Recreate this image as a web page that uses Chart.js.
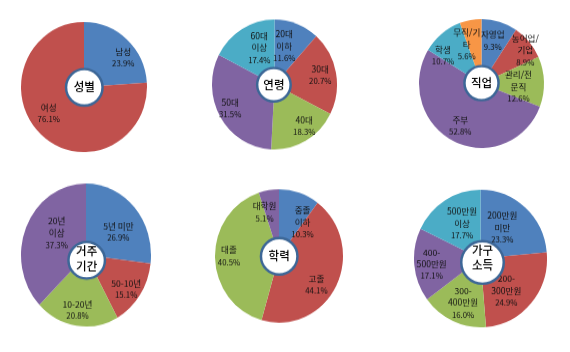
<!DOCTYPE html>
<html><head><meta charset="utf-8">
<script src="https://cdn.jsdelivr.net/npm/chart.js@4"></script>
<style>
html,body{margin:0;padding:0;background:#fff}
body{width:570px;height:352px;overflow:hidden;position:relative}
.w{position:absolute}
canvas{display:block}
</style></head><body>
<div class="w" id="w1"><canvas id="k1"></canvas></div>
<div class="w" id="w2"><canvas id="k2"></canvas></div>
<div class="w" id="w3"><canvas id="k3"></canvas></div>
<div class="w" id="w4"><canvas id="k4"></canvas></div>
<div class="w" id="w5"><canvas id="k5"></canvas></div>
<div class="w" id="w6"><canvas id="k6"></canvas></div>
<script>
// ---- data ----
const genderTitle = ["성별"];
const genderLabels = [["남성"], ["여성"]];
const genderValues = [23.9, 76.1];

const ageTitle = ["연령"];
const ageLabels = [["20대", "이하"], ["30대"], ["40대"], ["50대"], ["60대", "이상"]];
const ageValues = [11.6, 20.7, 18.3, 31.5, 17.4];

const jobTitle = ["직업"];
const jobLabels = [["자영업"], ["농어업/", "기업"], ["관리/전", "문직"], ["주부"], ["학생"], ["무직/기", "타"]];
const jobValues = [9.3, 8.9, 12.6, 52.8, 10.7, 5.6];

const stayTitle = ["거주", "기간"];
const stayLabels = [["5년 미만"], ["50-10년"], ["10-20년"], ["20년", "이상"]];
const stayValues = [26.9, 15.1, 20.8, 37.3];

const eduTitle = ["학력"];
const eduLabels = [["중졸", "이하"], ["고졸"], ["대졸"], ["대학원"]];
const eduValues = [10.3, 44.1, 40.5, 5.1];

const incomeTitle = ["가구", "소득"];
const incomeLabels = [["200만원", "미만"], ["200-", "300만원"], ["300-", "400만원"], ["400-", "500만원"], ["500만원", "이상"]];
const incomeValues = [23.3, 24.9, 16.0, 17.1, 17.7];

const palette = ["#4f81bd", "#c0504d", "#9bbb59", "#8064a2", "#4bacc6", "#f79646"];

// ---- layout (pie centre, radii, hole, label nudges) ----
const layouts = [
  {cx: 83.5, cy: 86.5, rx: 63, ry: 65, hole: 19.5, hx: 0.3, hy: 0.3, ty: -0.5,
   nudge: [[10, 3], [-6, -6]]},
  {cx: 274.3, cy: 84, rx: 62.5, ry: 65, hole: 18, hx: -0.6, hy: 0.2, ty: 0,
   nudge: [[-5.5, 3], [4, -1], [8.5, 3], [-7.5, 1.5], [7, 1]]},
  {cx: 481.7, cy: 83.7, rx: 62.5, ry: 64.5, hole: 18.3, hx: 0, hy: -0.4, ty: 0,
   nudge: [[-1, -1], [11.5, -5], [-5.5, 4.5], [-2.5, 3], [-11.5, 6], [-7.3, 4]]},
  {cx: 86, cy: 255, rx: 65, ry: 71.5, hole: 19.5, hx: 0.7, hy: 5.3, ty: -2,
   nudge: [[-0.7, 9.3], [3.5, 7], [-2, 7], [11.4, -3]]},
  {cx: 279, cy: 256, rx: 64, ry: 66.7, hole: 19.5, hx: 0.2, hy: 0.3, ty: 0,
   nudge: [[9.7, 9.5], [-1.5, 8.3], [-6.5, -1], [-7.5, 1]]},
  {cx: 480, cy: 258, rx: 66.7, ry: 69, hole: 22.5, hx: 2, hy: 4, ty: -4.5,
   nudge: [[-8.6, 3.4], [-8.8, 2], [1.2, 1.4], [-3.8, 1.2], [5.7, 4.7]]}
];

const charts = [
  {title: genderTitle, labels: genderLabels, values: genderValues},
  {title: ageTitle, labels: ageLabels, values: ageValues},
  {title: jobTitle, labels: jobLabels, values: jobValues},
  {title: stayTitle, labels: stayLabels, values: stayValues},
  {title: eduTitle, labels: eduLabels, values: eduValues},
  {title: incomeTitle, labels: incomeLabels, values: incomeValues}
];

const FONT = '"Noto Sans CJK KR", "Noto Sans", sans-serif';

const labelPlugin = {
  id: 'pieLabels',
  afterDatasetsDraw(chart, args, opts) {
    const ctx = chart.ctx;
    const meta = chart.getDatasetMeta(0);
    const ds = chart.data.datasets[0];
    const sy = opts.sy || 1; // vertical stretch applied by css
    ctx.save();
    meta.data.forEach((arc, i) => {
      const p = arc.getProps(['x', 'y', 'startAngle', 'endAngle', 'outerRadius'], true);
      const mid = (p.startAngle + p.endAngle) / 2;
      const r = p.outerRadius * opts.labelR;
      const n = opts.nudge[i] || [0, 0];
      const lx = p.x + Math.cos(mid) * r + n[0];
      const ly = p.y + Math.sin(mid) * r + n[1] / sy;
      const lines = chart.data.labels[i].slice();
      lines.push(ds.data[i].toFixed(1) + '%');
      ctx.save();
      ctx.translate(lx, ly);
      ctx.scale(1, 1 / sy);
      ctx.fillStyle = '#111';
      ctx.textAlign = 'center';
      ctx.textBaseline = 'middle';
      const lh = 12;
      const top = -(lines.length - 1) * lh / 2;
      lines.forEach((t, j) => {
        ctx.font = (j === lines.length - 1 ? '7.8px ' : '8.6px ') + FONT;
        ctx.fillText(t, 0, top + j * lh);
      });
      ctx.restore();
    });
    // hole
    const p0 = meta.data[0].getProps(['x', 'y'], true);
    ctx.translate(p0.x + opts.hx, p0.y + opts.hy / sy);
    ctx.scale(1, 1 / sy);
    ctx.beginPath();
    ctx.arc(0, 0, opts.hole - 1.25, 0, Math.PI * 2);
    ctx.fillStyle = '#ffffff';
    ctx.fill();
    ctx.lineWidth = 2.5;
    ctx.strokeStyle = '#3d6797';
    ctx.stroke();
    ctx.fillStyle = '#000';
    ctx.textAlign = 'center';
    ctx.textBaseline = 'middle';
    ctx.font = '500 11.5px ' + FONT;
    const tl = opts.title;
    const tlh = 15;
    const t0 = -(tl.length - 1) * tlh / 2 + opts.ty;
    tl.forEach((t, j) => ctx.fillText(t, 0, t0 + j * tlh));
    ctx.restore();
  }
};

charts.forEach((c, idx) => {
  const L = layouts[idx];
  const size = Math.round(L.rx * 2) + 2;
  const wrap = document.getElementById('w' + (idx + 1));
  const cv = document.getElementById('k' + (idx + 1));
  cv.width = size; cv.height = size;
  const sy = L.ry / L.rx;
  wrap.style.left = (L.cx - size / 2) + 'px';
  wrap.style.top = (L.cy - size / 2) + 'px';
  wrap.style.width = size + 'px';
  wrap.style.height = size + 'px';
  wrap.style.transform = 'scaleY(' + sy + ')';
  wrap.style.transformOrigin = '50% 50%';
  new Chart(cv, {
    type: 'pie',
    data: {
      labels: c.labels,
      datasets: [{
        data: c.values,
        backgroundColor: palette.slice(0, c.values.length),
        borderWidth: 0
      }]
    },
    options: {
      responsive: false,
      animation: false,
      layout: {padding: 1},
      plugins: {
        legend: {display: false},
        tooltip: {enabled: false},
        pieLabels: {sy: sy, labelR: 0.68, hole: L.hole, hx: L.hx, hy: L.hy, ty: L.ty,
                    nudge: L.nudge, title: c.title}
      }
    },
    plugins: [labelPlugin]
  });
});
</script>
</body></html>
